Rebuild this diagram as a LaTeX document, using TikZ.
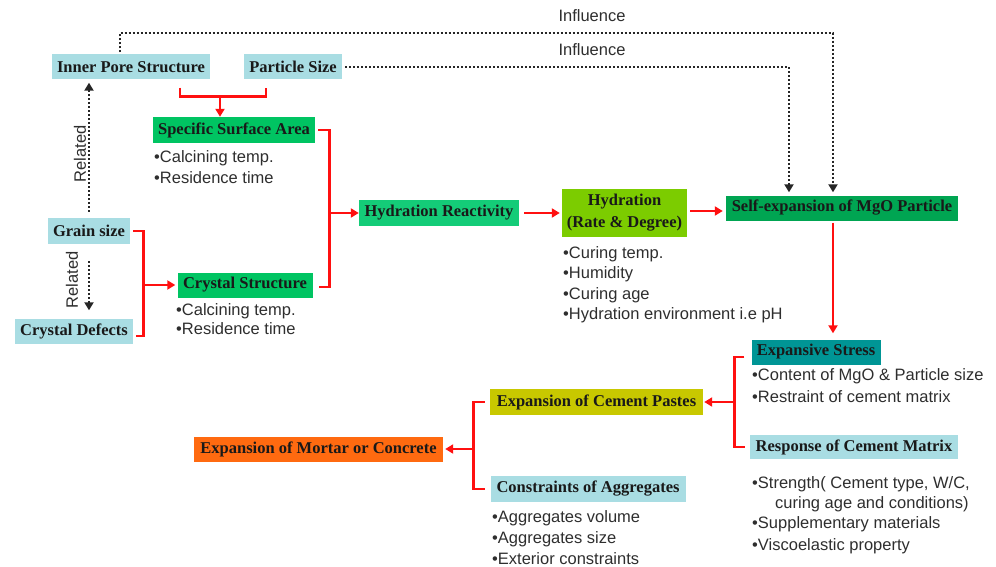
\documentclass[tikz,border=0pt]{standalone}
\usepackage{fontspec}
\setmainfont{Liberation Serif}
\setsansfont{Liberation Sans}
\usetikzlibrary{arrows.meta,calc}
\definecolor{lblue}{HTML}{A9DDE3}
\definecolor{gA}{HTML}{00C462}
\definecolor{gB}{HTML}{14CC78}
\definecolor{gC}{HTML}{7CCC00}
\definecolor{gD}{HTML}{00A552}
\definecolor{tealc}{HTML}{009595}
\definecolor{olivec}{HTML}{C8C800}
\definecolor{orng}{HTML}{FF6A10}
\definecolor{redc}{HTML}{FF1010}
\begin{document}
\begin{tikzpicture}[x=1pt,y=-1pt,
 box/.style={inner sep=0pt, minimum height=25pt, font=\fontsize{16.5}{22}\selectfont\bfseries, text=black!90},
 bl/.style={anchor=base west, inner sep=0pt, font=\sffamily\fontsize{16.5}{20}\selectfont, text=black!82},
 lbl/.style={inner sep=0pt, font=\sffamily\fontsize{16.5}{20}\selectfont, text=black!82},
 redln/.style={draw=redc, line width=2.8pt},
 redarr/.style={draw=redc, line width=2.8pt, -{Triangle[length=8pt,width=9pt]}},
 dotarr/.style={draw=black!85, line width=2.6pt, dash pattern=on 2.2pt off 1.8pt, -{Triangle[length=8pt,width=9pt]}}]
\useasboundingbox (0,0) rectangle (996,567);

% boxes
\node[box, fill=lblue, minimum width=158pt] (ips) at (131,67) {Inner Pore Structure};
\node[box, fill=lblue, minimum width=98pt] (ps) at (293,67) {Particle Size};
\node[box, fill=gA, minimum width=162pt, minimum height=26pt] (ssa) at (234,130) {Specific Surface Area};
\node[box, fill=lblue, minimum width=82pt, minimum height=26pt] (gs) at (89,231) {Grain size};
\node[box, fill=lblue, minimum width=118pt] (cd) at (74,331) {Crystal Defects};
\node[box, fill=gA, minimum width=135pt] (cs) at (245,285) {Crystal Structure};
\node[box, fill=gB, minimum width=160pt, minimum height=26pt] (hr) at (439,213) {Hydration Reactivity};
\node[box, fill=gC, minimum width=125pt, minimum height=48pt, align=center] (hyd) at (624.5,213) {Hydration\\(Rate \& Degree)};
\node[box, fill=gD, minimum width=232pt] (sem) at (842,208) {Self-expansion of MgO Particle};
\node[box, fill=tealc, minimum width=129pt] (es) at (816,352) {Expansive Stress};
\node[box, fill=lblue, minimum width=208pt, minimum height=24pt] (rcm) at (854,447) {Response of Cement Matrix};
\node[box, fill=olivec, minimum width=213pt, minimum height=26pt] (ecp) at (596.5,402) {Expansion of Cement Pastes};
\node[box, fill=lblue, minimum width=195pt, minimum height=26pt] (ca) at (588,489) {Constraints of Aggregates};
\node[box, fill=orng, minimum width=249pt] (mor) at (318.5,449) {Expansion of Mortar or Concrete};

% bullet lists
\node[bl] (ssa1) at (154,163) {\textbullet Calcining temp.};
\node[bl] (ssa2) at (154,183) {\textbullet Residence time};
\node[bl] (cs1) at (176,315) {\textbullet Calcining temp.};
\node[bl] (cs2) at (176,334) {\textbullet Residence time};
\node[bl] (hy1) at (563,258) {\textbullet Curing temp.};
\node[bl] (hy2) at (563,278) {\textbullet Humidity};
\node[bl] (hy3) at (563,299) {\textbullet Curing age};
\node[bl] (hy4) at (563,319) {\textbullet Hydration environment i.e pH};
\node[bl] (es1) at (752,380) {\textbullet Content of MgO \& Particle size};
\node[bl] (es2) at (752,402) {\textbullet Restraint of cement matrix};
\node[bl] (rc1) at (752,488) {\textbullet Strength( Cement type, W/C,};
\node[bl] (rc2) at (775,508) {curing age and conditions)};
\node[bl] (rc3) at (752,528) {\textbullet Supplementary materials};
\node[bl] (rc4) at (752,550) {\textbullet Viscoelastic property};
\node[bl] (ca1) at (492,522) {\textbullet Aggregates volume};
\node[bl] (ca2) at (492,543) {\textbullet Aggregates size};
\node[bl] (ca3) at (492,564) {\textbullet Exterior constraints};

% labels
\node[lbl] (inf1) at (592,16) {Influence};
\node[lbl] (inf2) at (592,50) {Influence};
\node[lbl, rotate=90] (rel1) at (80,154) {Related};
\node[lbl, rotate=90] (rel2) at (72,280) {Related};

% dotted connectors
\coordinate (topr) at (833,33);
\draw[dotarr, shorten >=3pt] ([xshift=-11pt,yshift=2pt]ips.north) |- (topr) -- ([xshift=-9pt]sem.north);
\draw[dotarr, shorten <=3pt, shorten >=3pt] (ps.east) -| ([xshift=-53pt]sem.north);
\draw[dotarr, shorten <=6pt, shorten >=3pt] (gs.north) -- (gs.north |- ips.south);
\draw[dotarr, shorten <=17pt, shorten >=8pt] (gs.south) -- (gs.south |- cd.north);

% red connectors
\draw[redln] ([xshift=49pt,yshift=-8pt]ips.south) -- ++(0,9) coordinate (b1) -| ([xshift=-27pt,yshift=-8pt]ps.south);
\path ([xshift=-14pt]ssa.north) coordinate (ssan);
\draw[redarr] (ssan |- b1) -- (ssan);

\draw[redln] ([xshift=3pt]gs.east) -- ++(10,0) coordinate (b3) |- ([xshift=3pt,yshift=-5pt]cd.east);
\draw[redarr, shorten >=2pt] (b3 |- cs.west) -- (cs.west);

\draw[redln] ([xshift=3pt]ssa.east) -- ++(11,0) coordinate (b2) |- ([xshift=6pt,yshift=-2pt]cs.east);
\draw[redarr] (b2 |- hr.west) -- (hr.west);

\draw[redarr] ([xshift=5pt]hr.east) -- ([xshift=-2pt]hyd.west);
\draw[redarr] ([xshift=3pt,yshift=2pt]hyd.east) -- ([xshift=-3pt,yshift=-3pt]sem.west);
\draw[redarr, shorten >=6pt] ([xshift=-9pt,yshift=-2pt]sem.south) -- ([xshift=-9pt]sem.south |- es.north);

\draw[redln] ([xshift=-7pt,yshift=-5pt]es.west) -- ++(-10,0) coordinate (b4) |- ([xshift=-5pt]rcm.west);
\draw[redarr] (b4 |- ecp.east) -- ([xshift=1pt]ecp.east);

\draw[redln] ([xshift=-5pt]ecp.west) -- ++(-11,0) coordinate (b5) |- ([xshift=-5pt]ca.west);
\draw[redarr] (b5 |- mor.east) -- ([xshift=2pt]mor.east);
\end{tikzpicture}
\end{document}
